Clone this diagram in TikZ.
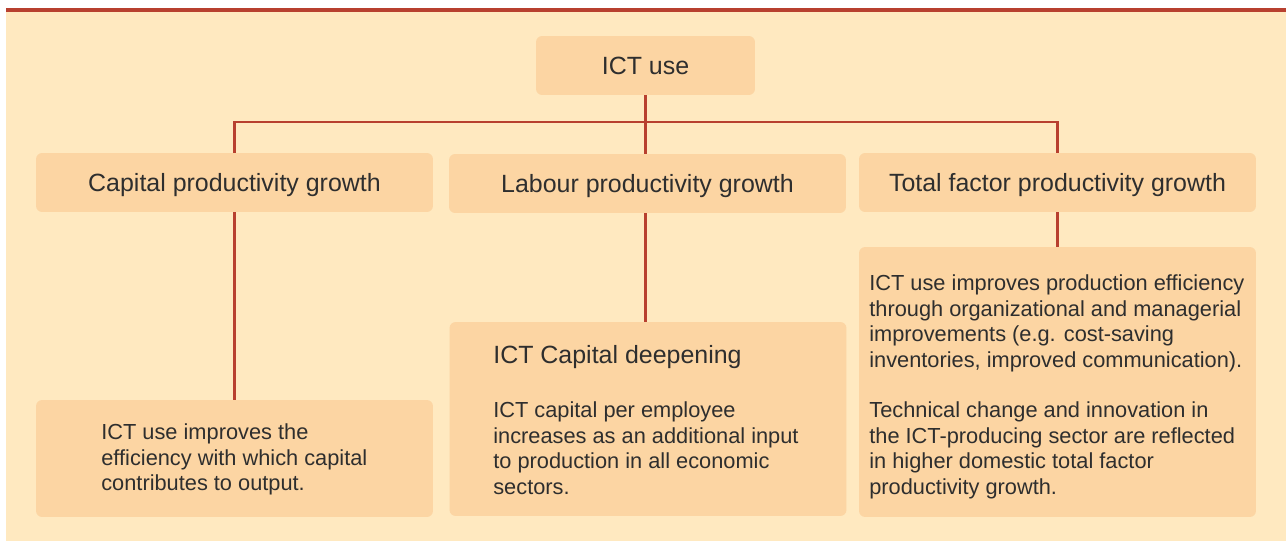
\documentclass[tikz,border=0pt]{standalone}
\usepackage{fontspec}
\setmainfont{Liberation Sans}
\definecolor{bgc}{HTML}{FFE9C0}
\definecolor{boxc}{HTML}{FCD5A3}
\definecolor{redc}{HTML}{B8402F}
\definecolor{txtc}{HTML}{2E2E2E}
\begin{document}
\begin{tikzpicture}[x=0.02cm,y=-0.02cm,
  boxnode/.style={fill=boxc,draw=none,rounded corners=3.5pt,inner sep=0pt,minimum width=7.94cm},
  headnode/.style={boxnode,minimum height=1.18cm,text=txtc,font=\fontsize{14.2}{17}\selectfont,text height=10.2pt,text depth=0pt},
  bodytext/.style={anchor=north west,inner sep=0pt,align=left,text=txtc,font=\fontsize{12.4}{14.74}\selectfont},
  titletext/.style={anchor=north west,inner sep=0pt,align=left,text=txtc,font=\fontsize{14.2}{17}\selectfont},
  link/.style={draw=redc,line width=1.5pt}]
\useasboundingbox (0,0) rectangle (1286,541);
\fill[bgc] (6,12) rectangle (1286,541);
\fill[redc] (6,8) rectangle (1286,12);
% boxes
\node[headnode,minimum width=4.38cm] (ict) at (645.5,65.5) {ICT use};
\node[headnode] (cap) at (234.5,182.5) {Capital productivity growth};
\node[headnode] (lab) at (647.5,183.5) {Labour productivity growth};
\node[headnode] (tfp) at (1057.5,182.5) {Total factor productivity growth};
\node[boxnode,minimum height=2.34cm] (bl) at (234.5,458.5) {};
\node[boxnode,minimum height=3.88cm] (mid) at (648,419) {};
\node[boxnode,minimum height=5.4cm] (rt) at (1057.5,382) {};
% connectors
\coordinate (bus) at (0,122);
\draw[link] (cap.north) -- (cap.north |- bus) -- (tfp.north |- bus) -- (tfp.north);
\draw[link] (ict.south) -- (ict.south |- lab.north);
\draw[link] (cap.south) -- (cap.south |- bl.north);
\draw[link] (ict.south |- lab.south) -- (ict.south |- mid.north);
\draw[link] (tfp.south) -- (tfp.south |- rt.north);
% texts
\node[bodytext] (bltxt) at (101,423) {ICT use improves the\\efficiency with which capital\\contributes to output.};
\node[titletext] (midttl) at (493,345) {ICT Capital deepening};
\node[bodytext] (midtxt) at (493,401) {ICT capital per employee\\increases as an additional input\\to production in all economic\\sectors.};
\node[bodytext] (rttxt1) at (869,274) {ICT use improves production efficiency\\through organizational and managerial\\improvements (e.g. cost-saving\\inventories, improved communication).};
\node[bodytext] (rttxt2) at (869,401) {Technical change and innovation in\\the ICT-producing sector are reflected\\in higher domestic total factor\\productivity growth.};
\end{tikzpicture}
\end{document}
